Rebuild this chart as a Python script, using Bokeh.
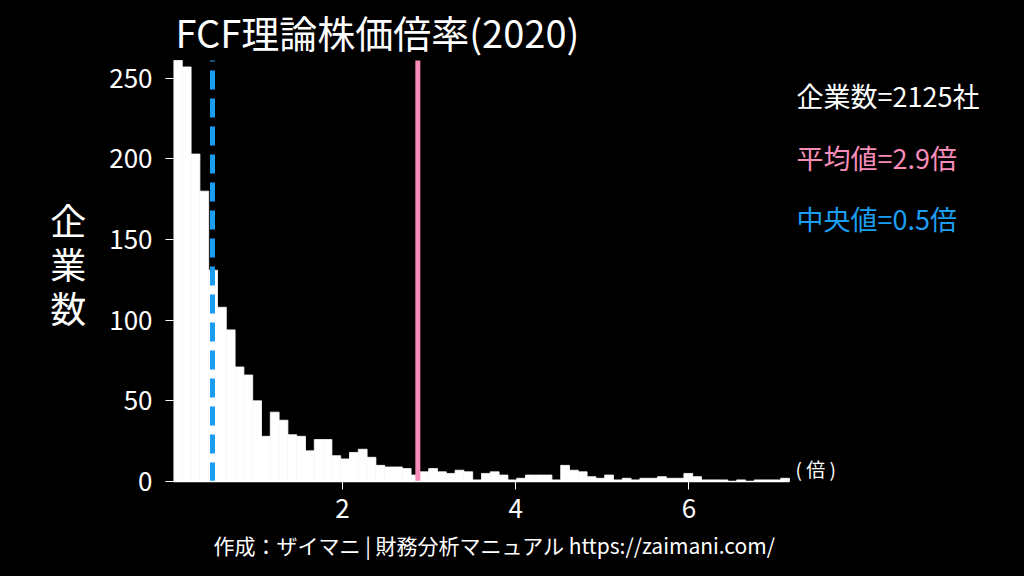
import numpy as np
from bokeh.plotting import figure
from bokeh.models import Range1d, FixedTicker, Label, Title
from bokeh.embed import file_html
from bokeh.resources import INLINE

# ---------------- data ----------------
title_text = "FCF理論株価倍率(2020)"
counts = [261, 257, 203, 180, 131, 108, 94, 71, 66, 50,
          28, 43, 38, 29, 28, 19, 26, 26, 16, 14,
          18, 20, 15, 10, 9, 9, 8, 4, 6, 8,
          6, 5, 7, 6, 1, 5, 6, 4, 1, 2,
          4, 4, 4, 1, 10, 7, 6, 3, 2, 4,
          1, 2, 1, 2, 2, 3, 2, 2, 5, 3,
          1, 1, 1, 0, 1, 0, 1, 1, 1, 2]
bin_lo = 0.05
bin_hi = 7.16
mean_value = 2.87
median_value = 0.50
x_ticks = [2, 4, 6]
y_ticks = [0, 50, 100, 150, 200, 250]
info_texts = ["企業数=2125社", "平均値=2.9倍", "中央値=0.5倍"]
y_label_chars = ["企", "業", "数"]
unit_text = "( 倍 )"
footer_text = "作成：ザイマニ | 財務分析マニュアル https://zaimani.com/"

edges = np.linspace(bin_lo, bin_hi, len(counts) + 1)
y_top = max(counts)

FONT = "Noto Sans CJK JP"
WHITE = "#ffffff"
PINK = "#f78cb9"
BLUE = "#1c9ef0"

# layout: the frame spans canvas x 173..998 and y 0..481;
# the histogram itself occupies x 173..789 and y 60..481 (as in the reference)
W, H = 1008, 576
FRAME_L, FRAME_R, BARS_R = 173, 998, 789
BARS_T, FRAME_B = 60, 481
x_view_end = bin_lo + (bin_hi - bin_lo) * (FRAME_R - FRAME_L) / (BARS_R - FRAME_L)
y_view_end = y_top * FRAME_B / (FRAME_B - BARS_T)

p = figure(width=W, height=H, output_backend="svg", toolbar_location=None,
           title=None,
           x_range=Range1d(bin_lo, x_view_end), y_range=Range1d(0, y_view_end),
           min_border_left=FRAME_L, min_border_right=W - FRAME_R,
           min_border_top=0, min_border_bottom=H - FRAME_B)
p.background_fill_color = "black"
p.border_fill_color = "black"
p.outline_line_color = None
p.xgrid.visible = False
p.ygrid.visible = False

p.quad(left=edges[:-1], right=edges[1:], top=counts, bottom=0,
       fill_color=WHITE, line_color=WHITE, line_width=0.8)

# mean / median lines spanning the histogram's height
p.segment(x0=[mean_value], y0=[0], x1=[mean_value], y1=[y_top],
          line_color=PINK, line_width=5)
p.segment(x0=[median_value], y0=[0], x1=[median_value], y1=[y_top],
          line_color=BLUE, line_width=5, line_dash="19 9")

# axes
p.xaxis.ticker = FixedTicker(ticks=x_ticks)
p.yaxis.ticker = FixedTicker(ticks=y_ticks)
p.xaxis.bounds = (bin_lo, bin_hi)
for ax in (p.xaxis, p.yaxis):
    ax.major_label_text_color = WHITE
    ax.major_label_text_font = FONT
    ax.major_label_text_font_size = "26px"
    ax.major_tick_line_color = WHITE
    ax.major_tick_in = 0
    ax.major_tick_out = 8
    ax.minor_tick_line_color = None
p.xaxis.axis_line_color = WHITE
p.xaxis.axis_line_width = 1.5
p.yaxis.axis_line_color = None
p.xaxis.major_label_standoff = 9
p.yaxis.major_label_standoff = 13

# vertical, stacked y label (a blank first line moves it down to the bars' middle)
p.yaxis.axis_label = "\n".join([" "] + y_label_chars)
p.yaxis.axis_label_orientation = "horizontal"
p.yaxis.axis_label_text_font = FONT
p.yaxis.axis_label_text_font_size = "36px"
p.yaxis.axis_label_text_font_style = "normal"
p.yaxis.axis_label_text_color = WHITE
p.yaxis.axis_label_text_line_height = 0.85
p.yaxis.axis_label_standoff = 20

# footer
p.add_layout(Title(text=footer_text, align="left", offset=40, standoff=14,
                   text_font=FONT, text_font_size="21px", text_font_style="normal",
                   text_color=WHITE), "below")

# texts inside the frame, canvas units
def lab(text, x, y, size, color=WHITE, align="left", baseline="middle"):
    p.add_layout(Label(text=text, x=x, y=y, x_units="canvas", y_units="canvas",
                       text_font=FONT, text_font_size=size, text_color=color,
                       text_align=align, text_baseline=baseline))

lab(title_text, 175, 31, "38px")
colors = [WHITE, PINK, BLUE]
for t, c, yy in zip(info_texts, colors, [95, 157, 218]):
    lab(t, 796, yy, "27px", color=c)
lab(unit_text, 795, 468, "19px")

html = file_html(p, INLINE)
html = html.replace("<head>", "<head><style>html,body{background:#000;}</style>", 1)
open("out.html", "w").write(html)
